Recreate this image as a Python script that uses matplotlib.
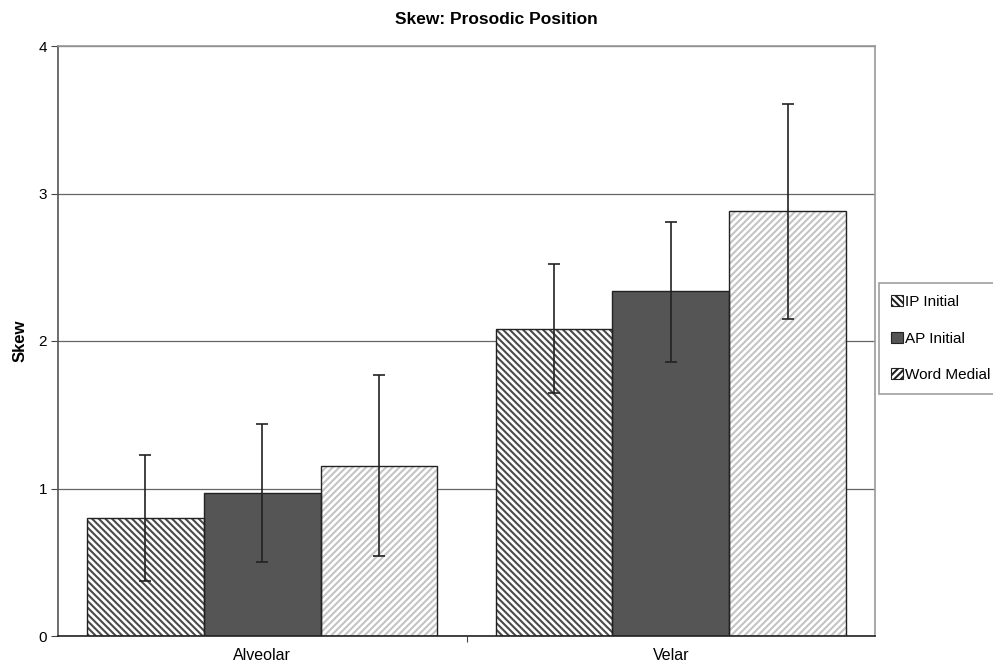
import matplotlib.pyplot as plt
import matplotlib.patches as mpatches
import numpy as np

plt.rcParams['font.family'] = ['Liberation Sans', 'DejaVu Sans']
plt.rcParams['hatch.linewidth'] = 1.5

# data
categories = ['Alveolar', 'Velar']
series = ['IP Initial', 'AP Initial', 'Word Medial']
means = {
    'IP Initial': [0.80, 2.08],
    'AP Initial': [0.97, 2.34],
    'Word Medial': [1.15, 2.88],
}
err_hi = {
    'IP Initial': [1.23, 2.52],
    'AP Initial': [1.44, 2.81],
    'Word Medial': [1.77, 3.61],
}
err_lo = {
    'IP Initial': [0.37, 1.65],
    'AP Initial': [0.50, 1.86],
    'Word Medial': [0.54, 2.15],
}

# styles: face, hatch colour, hatch
styles = {
    'IP Initial': ('white', '#4a4a4a', '\\' * 5),
    'AP Initial': ('#555555', '#555555', ''),
    'Word Medial': ('white', '#c4c4c4', '/' * 5),
}

fig = plt.figure(figsize=(9.93, 6.67), dpi=100)
ax = fig.add_axes([58/993, 31/667, 817/993, 590/667])

x = np.arange(len(categories))
w = 0.286
for i, s in enumerate(series):
    pos = x + (i - 1) * w
    face, hc, hatch = styles[s]
    ax.bar(pos, means[s], w, color=face, edgecolor=hc, hatch=hatch,
           linewidth=0, zorder=2)
    ax.bar(pos, means[s], w, fill=False, edgecolor='#222222', linewidth=1.0,
           zorder=3)
    m = np.array(means[s])
    yerr = [m - np.array(err_lo[s]), np.array(err_hi[s]) - m]
    ax.errorbar(pos, m, yerr=yerr, fmt='none', ecolor='#222222',
                elinewidth=1.2, capsize=4.5, capthick=1.2, zorder=4)

ax.set_xlim(-0.5, 1.5)
ax.set_ylim(0, 4)
ax.set_yticks([0, 1, 2, 3, 4])
ax.set_xticks(x)
ax.set_xticklabels(categories, fontsize=11.5)
ax.set_xticks([0.5], minor=True)
ax.tick_params(axis='x', which='major', length=0, pad=9)
ax.tick_params(axis='x', which='minor', length=4, width=0.8, color='#444444')
ax.tick_params(axis='y', length=5, width=0.8, color='#444444', labelsize=11, pad=3)
ax.yaxis.grid(True, color='#666666', linewidth=0.9, zorder=0)
ax.set_axisbelow(True)

for sp in ['top', 'right']:
    ax.spines[sp].set_color('#999999')
    ax.spines[sp].set_linewidth(1.2)
ax.spines['left'].set_color('#555555')
ax.spines['left'].set_linewidth(1.2)
ax.spines['bottom'].set_color('#222222')
ax.spines['bottom'].set_linewidth(1.2)

ax.set_ylabel('Skew', fontsize=12, fontweight='bold', labelpad=8)
fig.text(0.5, 1 - 19/667, 'Skew: Prosodic Position', fontsize=12.5,
         fontweight='bold', ha='center', va='center')

handles = []
for s in series:
    face, hc, hatch = styles[s]
    handles.append(mpatches.Patch(facecolor=face, edgecolor='#222222',
                                  hatch=hatch, linewidth=0.8))
leg = fig.legend(handles, series, loc='upper left',
                 bbox_to_anchor=(879/993, 1 - 283/667), fontsize=11,
                 handlelength=0.75, handleheight=0.75, handletextpad=0.15,
                 labelspacing=1.47, borderpad=0.8, borderaxespad=0,
                 fancybox=False, frameon=True)
leg.get_frame().set_edgecolor('#888888')
leg.get_frame().set_linewidth(1.2)

fig.savefig('out.png', dpi=100)
